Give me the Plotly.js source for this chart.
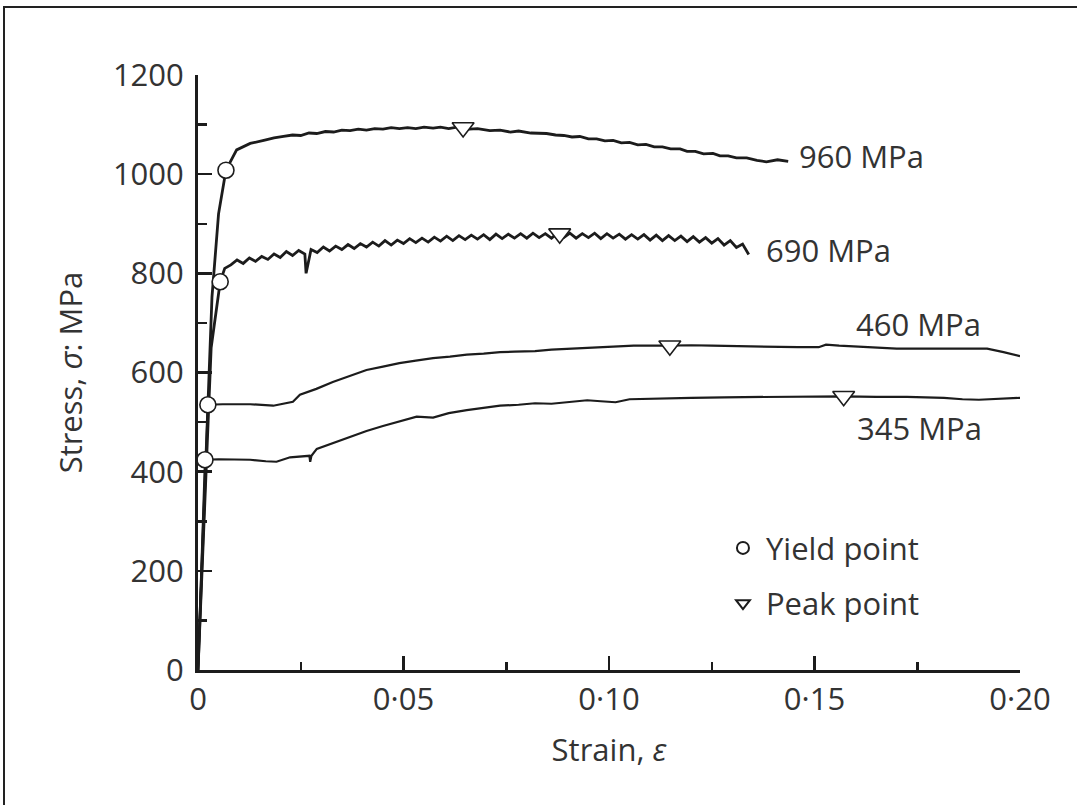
<!DOCTYPE html>
<html>
<head>
<meta charset="utf-8">
<script src="https://cdn.plot.ly/plotly-3.0.1.min.js"></script>
<style>
  html, body { margin: 0; padding: 0; background: #fff; }
  #chart { position: absolute; left: 0; top: 0; width: 1077px; height: 805px; }
  #frame { position: absolute; left: 3px; top: 6px; width: 1100px; height: 900px;
           border-top: 2px solid #222; border-left: 2px solid #222; pointer-events: none; }
</style>
</head>
<body>
<div id="chart"></div>
<div id="frame"></div>
<script>
// ---- data ----
const x960 = [0, 0.0034, 0.005, 0.0068, 0.0094, 0.0127, 0.016, 0.0185, 0.0208, 0.023, 0.025, 0.027, 0.0289, 0.031, 0.033, 0.035, 0.037, 0.039, 0.041, 0.043, 0.045, 0.047, 0.049, 0.051, 0.053, 0.055, 0.0572, 0.059, 0.061, 0.063, 0.0645, 0.066, 0.068, 0.071, 0.0735, 0.076, 0.078, 0.081, 0.0848, 0.087, 0.089, 0.091, 0.0929, 0.095, 0.097, 0.099, 0.101, 0.103, 0.105, 0.107, 0.109, 0.111, 0.113, 0.115, 0.1173, 0.119, 0.121, 0.123, 0.1253, 0.127, 0.129, 0.131, 0.1335, 0.136, 0.1383, 0.1395, 0.141, 0.1436];
const y960 = [0, 752, 920, 1008, 1049, 1062, 1068, 1073, 1076, 1079, 1078, 1083, 1082, 1086, 1085, 1089, 1088, 1091, 1089, 1092, 1091, 1094, 1092, 1094, 1092, 1095, 1093, 1095, 1092, 1095, 1094, 1091, 1092, 1088, 1089, 1085, 1087, 1083, 1082, 1079, 1078, 1075, 1076, 1071, 1071, 1067, 1068, 1063, 1064, 1059, 1060, 1055, 1055, 1051, 1051, 1046, 1046, 1041, 1042, 1037, 1037, 1033, 1033, 1028, 1025, 1027, 1029, 1026];

const x690 = [0, 0.0032, 0.0054, 0.0065, 0.008, 0.0095, 0.011, 0.0125, 0.014, 0.0155, 0.017, 0.0185, 0.020, 0.0215, 0.023, 0.0245, 0.026, 0.0263, 0.0275, 0.029, 0.0305, 0.032, 0.0335, 0.035, 0.0365, 0.038, 0.0395, 0.041, 0.0425, 0.044, 0.0455, 0.047, 0.0485, 0.050, 0.0515, 0.053, 0.0545, 0.056, 0.0575, 0.059, 0.0605, 0.062, 0.0635, 0.065, 0.0665, 0.068, 0.0695, 0.071, 0.0725, 0.074, 0.0755, 0.077, 0.0785, 0.080, 0.0815, 0.083, 0.0845, 0.086, 0.0875, 0.089, 0.0905, 0.092, 0.0935, 0.095, 0.0965, 0.098, 0.0995, 0.101, 0.1025, 0.104, 0.1055, 0.107, 0.1085, 0.110, 0.1115, 0.113, 0.1145, 0.116, 0.1175, 0.119, 0.1205, 0.122, 0.1235, 0.125, 0.1265, 0.128, 0.1295, 0.131, 0.1325, 0.1335, 0.134];
const y690 = [0, 650, 783, 810, 817, 827, 820, 831, 824, 834, 828, 839, 832, 844, 836, 846, 839, 800, 848, 842, 853, 845, 855, 848, 858, 850, 860, 853, 863, 855, 866, 857, 867, 860, 870, 862, 871, 863, 873, 865, 875, 866, 876, 868, 877, 869, 878, 868, 879, 870, 879, 871, 880, 871, 881, 872, 880, 871, 881, 872, 881, 871, 880, 872, 881, 870, 880, 871, 879, 869, 878, 869, 878, 867, 877, 866, 876, 866, 875, 864, 874, 863, 872, 861, 870, 857, 866, 852, 859, 846, 838];

const x460 = [0, 0.0024, 0.006, 0.0127, 0.0183, 0.0231, 0.0248, 0.0288, 0.0328, 0.037, 0.041, 0.045, 0.049, 0.053, 0.0572, 0.0613, 0.0654, 0.0695, 0.0735, 0.077, 0.082, 0.086, 0.0905, 0.0947, 0.1, 0.106, 0.1148, 0.12, 0.125, 0.13, 0.1347, 0.14, 0.146, 0.151, 0.1528, 0.156, 0.1642, 0.17, 0.18, 0.186, 0.192, 0.196, 0.2];
const y460 = [0, 535, 536, 536, 533, 541, 555, 567, 581, 594, 605, 612, 619, 624, 629, 632, 636, 638, 641, 642, 643, 646, 648, 650, 651, 654, 654, 655, 654, 653, 653, 652, 651, 651, 656, 654, 650, 648, 648, 648, 648, 641, 633];

const x345 = [0, 0.0017, 0.005, 0.0127, 0.0165, 0.0191, 0.0224, 0.0271, 0.0273, 0.0276, 0.0289, 0.033, 0.037, 0.041, 0.045, 0.049, 0.0532, 0.0572, 0.061, 0.0654, 0.0695, 0.0735, 0.078, 0.082, 0.086, 0.0905, 0.0947, 0.098, 0.1016, 0.105, 0.112, 0.12, 0.128, 0.1364, 0.145, 0.1571, 0.165, 0.1725, 0.1815, 0.186, 0.19, 0.195, 0.2];
const y345 = [0, 424, 425, 424, 421, 420, 429, 432, 420, 432, 446, 458, 471, 482, 492, 502, 511, 509, 518, 524, 529, 533, 535, 538, 537, 541, 544, 542, 540, 546, 548, 549, 550, 551, 551, 552, 551, 551, 549, 546, 545, 547, 549];

const yieldX = [0.0068, 0.0054, 0.0024, 0.0017];
const yieldY = [1008, 783, 535, 424];
const peakX = [0.0645, 0.088, 0.1148, 0.1571];
const peakY = [1094, 880, 654, 552];

const curveLabels = ['960 MPa', '690 MPa', '460 MPa', '345 MPa'];
const xTickVals = [0, 0.05, 0.10, 0.15, 0.20];
const xTickText = ['0', '0·05', '0·10', '0·15', '0·20'];
const yTickVals = [0, 200, 400, 600, 800, 1000, 1200];

// ---- chart ----
const ink = '#1c1c1c';
const txt = '#333333';
const FONT = 'Open Sans, Noto Sans, sans-serif';
const FS = 31;

function curve(x, y, w) {
  return { x: x, y: y, type: 'scatter', mode: 'lines', showlegend: false,
           line: { color: ink, width: w, shape: 'linear' }, hoverinfo: 'skip' };
}

const traces = [
  curve(x960, y960, 2.8),
  curve(x690, y690, 2.8),
  curve(x460, y460, 2.2),
  curve(x345, y345, 2.2),
  { x: yieldX, y: yieldY, type: 'scatter', mode: 'markers', name: 'Yield point',
    legendgroup: 'a',
    marker: { symbol: 'circle', size: 16, color: '#ffffff', line: { color: ink, width: 1.6 } } },
  { x: peakX, y: peakY, type: 'scatter', mode: 'markers', name: 'Peak point',
    legendgroup: 'b',
    marker: { symbol: 'triangle-down', size: 19, color: '#ffffff', line: { color: ink, width: 1.6 } } }
];

const labelPos = [
  { x: 0.1458, y: 1037 },
  { x: 0.1377, y: 847 },
  { x: 0.1596, y: 697 },
  { x: 0.1599, y: 489 }
];

const annotations = curveLabels.map((t, i) => ({
  x: labelPos[i].x, y: labelPos[i].y, xref: 'x', yref: 'y',
  text: t, showarrow: false, xanchor: 'left', yanchor: 'middle',
  font: { family: FONT, size: FS, color: txt }
}));

const layout = {
  width: 1077, height: 805,
  margin: { l: 198, r: 57, t: 75, b: 135 },
  paper_bgcolor: '#ffffff', plot_bgcolor: '#ffffff',
  font: { family: FONT, size: FS, color: txt },
  showlegend: true,
  legend: {
    x: 0.635, y: 0.25, xanchor: 'left', yanchor: 'top',
    bgcolor: 'rgba(0,0,0,0)', borderwidth: 0,
    font: { family: FONT, size: FS, color: txt },
    itemsizing: 'constant', itemwidth: 36, traceorder: 'grouped', tracegroupgap: 12
  },
  xaxis: {
    range: [0, 0.2], showgrid: false, zeroline: false,
    showline: true, linecolor: ink, linewidth: 3,
    ticks: 'inside', ticklen: 14, tickwidth: 2.5, tickcolor: ink,
    tickmode: 'array', tickvals: xTickVals, ticktext: xTickText,
    ticklabelstandoff: 0,
    tickfont: { family: FONT, size: FS, color: txt },
    minor: { dtick: 0.025, ticks: 'inside', ticklen: 8, tickwidth: 2.5, tickcolor: ink, showgrid: false },
    title: { text: 'Strain, <i>ε</i>', font: { family: FONT, size: FS, color: txt }, standoff: 22 }
  },
  yaxis: {
    range: [0, 1200], showgrid: false, zeroline: false,
    showline: true, linecolor: ink, linewidth: 3,
    ticks: 'inside', ticklen: 14, tickwidth: 2.5, tickcolor: ink,
    tickmode: 'array', tickvals: yTickVals,
    ticklabelstandoff: 5,
    tickfont: { family: FONT, size: FS, color: txt },
    minor: { dtick: 100, ticks: 'inside', ticklen: 9, tickwidth: 2.5, tickcolor: ink, showgrid: false },
    title: { text: 'Stress, <i>σ</i>: MPa', font: { family: FONT, size: FS, color: txt }, standoff: 22 }
  },
  annotations: annotations
};

Plotly.newPlot('chart', traces, layout, { displayModeBar: false, staticPlot: true });
</script>
</body>
</html>
